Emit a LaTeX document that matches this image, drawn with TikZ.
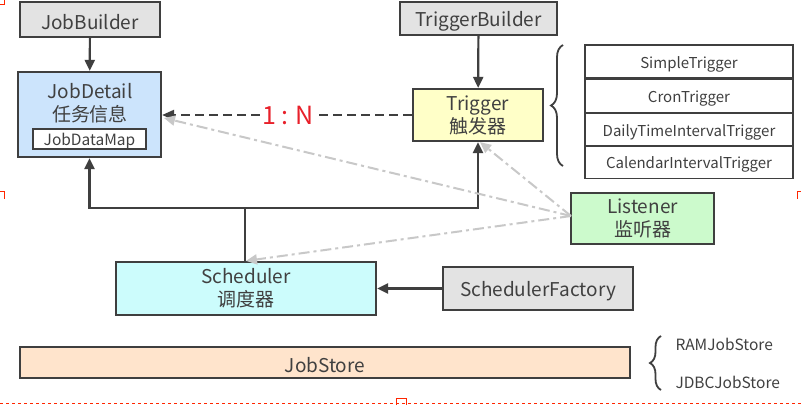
\documentclass[tikz,border=0pt]{standalone}
\usepackage{fontspec}
\setmainfont{Noto Sans CJK SC}
\usetikzlibrary{arrows.meta,decorations.pathreplacing,calc}
\definecolor{edge}{HTML}{3F3F3F}
\definecolor{gbox}{HTML}{E3E3E3}
\definecolor{bluebox}{HTML}{CCE4FC}
\definecolor{yelbox}{HTML}{FFFFC8}
\definecolor{grnbox}{HTML}{CCFACC}
\definecolor{cyanbox}{HTML}{CCFCFC}
\definecolor{peach}{HTML}{FFE4CC}
\definecolor{txt}{HTML}{404040}
\definecolor{dashgray}{HTML}{C8C8C8}
\definecolor{redtxt}{HTML}{E8202A}
\newcommand{\lowtxt}[1]{\raisebox{-2.5pt}[\height][\depth]{#1}}
\tikzset{
  x=1pt,y=-1pt,
  box/.style={draw=edge,line width=2.2pt,text=txt,inner sep=0pt,align=center},
  lbl/.style={font=\fontsize{19}{23}\selectfont},
  small/.style={font=\fontsize{15.5}{18}\selectfont},
  cell/.style={draw=edge,line width=1.6pt,text=txt,inner sep=0pt,minimum width=208pt,minimum height=33pt,font=\fontsize{15}{18}\selectfont},
  solidarrow/.style={draw=edge,line width=2.2pt,-{Triangle[length=11pt,width=10pt]}},
  listenarrow/.style={draw=dashgray,line width=2pt,dash pattern=on 11pt off 4pt on 3pt off 4pt,-{Triangle[length=11pt,width=10pt]}},
  brace/.style={draw=edge,line width=1.8pt,decorate},
}
\begin{document}
\begin{tikzpicture}
\useasboundingbox (0,0) rectangle (801,405);
\fill[white] (0,0) rectangle (801,405);
% corner marks
\begin{scope}[draw=red!70!orange,line width=0.9pt]
\draw (0,4) -- (4,4) -- (4,0);
\draw[dashed] (0,403.5) -- (801,403.5);
\draw (0,191) -- (4,191) -- (4,199);
\draw (801,191) -- (797,191) -- (797,199);
\draw (396,405) -- (396,398) -- (406,398) -- (406,405);
\end{scope}

% nodes
\node[box,fill=gbox,lbl,minimum width=140pt,minimum height=35pt] (jb) at (90,19.5) {\lowtxt{JobBuilder}};
\node[box,fill=bluebox,minimum width=143pt,minimum height=85pt] (jd) at (89.5,114.5) {};
\node[text=txt,lbl,align=center] (jdt) at (90,103) {JobDetail\\任务信息};
\node[box,fill=white,small,minimum width=113pt,minimum height=20pt,line width=1.8pt] (jdm) at (89.5,139) {\lowtxt{JobDataMap}};

\node[box,fill=gbox,lbl,minimum width=157pt,minimum height=33pt] (tb) at (478.5,18.5) {\lowtxt{TriggerBuilder}};
\node[box,fill=yelbox,lbl,minimum width=130pt,minimum height=52pt] (tr) at (478,115) {Trigger\\触发器};

\node[cell] (c1) at (689,61.5) {\lowtxt{SimpleTrigger}};
\node[cell] (c2) at (689,96) {\lowtxt{CronTrigger}};
\node[cell] (c3) at (689,129.5) {\lowtxt{DailyTimeIntervalTrigger}};
\node[cell] (c4) at (689,162) {\lowtxt{CalendarIntervalTrigger}};

\node[box,fill=grnbox,lbl,minimum width=143pt,minimum height=51pt] (li) at (642.5,218.5) {Listener\\监听器};
\node[box,fill=cyanbox,lbl,minimum width=260pt,minimum height=53pt] (sc) at (246,288.5) {Scheduler\\调度器};
\node[box,fill=gbox,lbl,minimum width=190pt,minimum height=43pt] (sf) at (538,288.5) {\lowtxt{SchedulerFactory}};
\node[box,fill=peach,lbl,minimum width=610pt,minimum height=31pt] (js) at (325,362.5) {\lowtxt{JobStore}};

\node[text=txt,small,anchor=west] (ram) at (672,344) {RAMJobStore};
\node[text=txt,small,anchor=west] (jdbc) at (672,382) {JDBCJobStore};

% braces
\draw[brace,decoration={brace,amplitude=12pt}] (563,166) -- (563,45);
\draw[brace,decoration={brace,amplitude=11pt}] (661,390) -- (661,336);

% solid arrows
\draw[solidarrow] (jb) -- (jd);
\draw[solidarrow] (tb) -- (tr);
\draw[solidarrow] (sf) -- (sc);
\coordinate (jn) at (245,208);
\draw[draw=edge,line width=2.2pt] (sc.north -| jn) -- (jn);
\draw[solidarrow] (jn) -| (jd.south);
\draw[solidarrow] (jn) -| (tr.south);

% 1:N
\node[text=redtxt,font=\fontsize{25}{28}\selectfont,fill=white,inner sep=2pt] (ratio) at (288,115) {1 : N};
\draw[draw=edge,line width=2.2pt,dash pattern=on 9pt off 5pt] (tr.west) -- (ratio.east);
\draw[draw=edge,line width=2.2pt,dash pattern=on 9pt off 5pt,-{Triangle[length=12pt,width=10pt]}] (ratio.west) -- (jd.east |- ratio);

% listener arrows
\coordinate (lsrc) at (571,216);
\draw[listenarrow] (lsrc) -- (164,118);
\draw[listenarrow] (lsrc) -- ($(tr.south)+(2,0)$);
\draw[listenarrow] (lsrc) -- (sc.north);
\end{tikzpicture}
\end{document}
